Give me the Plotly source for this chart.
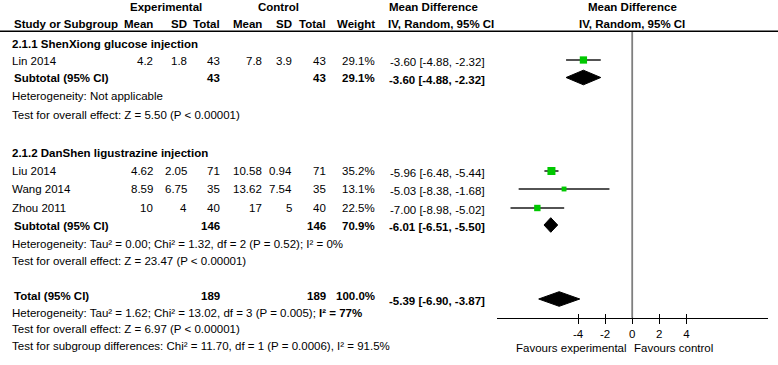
import plotly.graph_objects as go
import math

# ---------------- data ----------------
studies = ["Lin 2014", "Liu 2014", "Wang 2014", "Zhou 2011"]
exp_mean = [4.2, 4.62, 8.59, 10]
exp_sd = [1.8, 2.05, 6.75, 4]
exp_n = [43, 71, 35, 40]
ctl_mean = [7.8, 10.58, 13.62, 17]
ctl_sd = [3.9, 0.94, 7.54, 5]
ctl_n = [43, 71, 35, 40]
weight = [29.1, 35.2, 13.1, 22.5]
md = [-3.60, -5.96, -5.03, -7.00]
md_lo = [-4.88, -6.48, -8.38, -8.98]
md_hi = [-2.32, -5.44, -1.68, -5.02]

group_titles = ["2.1.1 ShenXiong glucose injection", "2.1.2 DanShen ligustrazine injection"]
sub_n_exp = [43, 146]
sub_n_ctl = [43, 146]
sub_weight = [29.1, 70.9]
sub_md = [-3.60, -6.01]
sub_lo = [-4.88, -6.51]
sub_hi = [-2.32, -5.50]
sub_het = ["Heterogeneity: Not applicable",
           "Heterogeneity: Tau² = 0.00; Chi² = 1.32, df = 2 (P = 0.52); I² = 0%"]
sub_test = ["Test for overall effect: Z = 5.50 (P < 0.00001)",
            "Test for overall effect: Z = 23.47 (P < 0.00001)"]

tot_n_exp = 189
tot_n_ctl = 189
tot_weight = 100.0
tot_md = -5.39
tot_lo = -6.90
tot_hi = -3.87
tot_het = "Heterogeneity: Tau² = 1.62; Chi² = 13.02, df = 3 (P = 0.005); <b>I² = 77%</b>"
tot_test = "Test for overall effect: Z = 6.97 (P < 0.00001)"
tot_sub = "Test for subgroup differences: Chi² = 11.70, df = 1 (P = 0.0006), I² = 91.5%"

tick_vals = [-4, -2, 0, 2, 4]
x_range = [-10, 10]

# ---------------- layout (pixel positions) ----------------
W, H = 778, 365
FONT = "Liberation Sans, Arial, sans-serif"
FS = 11.5
GREEN = "#00c800"

y_title = [43.5, 152.7]
y_study = [60.7, 170.7, 189.3, 207.7]
y_sub = [78.0, 225.7]
y_het = [96.0, 244.0]
y_test = [114.5, 261.3]
y_tot = 295.5
y_tot_het = 312.7
y_tot_test = 329.3
y_tot_sub = 345.7
ym_study = [60.0, 171.0, 189.0, 208.0]
ym_sub = [77.5, 225.0]
ym_tot = 299.0
DIAM_H = 7.3

col_x = {"em": 155, "es": 189, "en": 222, "cm": 264, "cs": 294, "cn": 328, "w": 377, "ci": 487}

axis_y = 317.7
px_left, px_right = 496.7, 767.7

annotations = []


def txt(x, y, s, anchor="left", bold=False, size=FS):
    annotations.append(dict(
        x=x / W, y=y, xref="paper", yref="y",
        text=f"<b>{s}</b>" if bold else s, showarrow=False,
        xanchor=anchor, yanchor="middle",
        font=dict(family=FONT, size=size, color="black")))


def fmt(v):
    return f"{v:g}"


def ci_text(m, lo, hi):
    return f"{m:.2f} [{lo:.2f}, {hi:.2f}]"


# headers
txt(166, 7, "Experimental", "center", True)
txt(278, 7, "Control", "center", True)
txt(387, 7, "Mean Difference", "left", True)
txt(632, 7, "Mean Difference", "center", True)
txt(12, 24, "Study or Subgroup", "left", True)
for key, lab in [("em", "Mean"), ("es", "SD"), ("en", "Total"), ("cm", "Mean"),
                 ("cs", "SD"), ("cn", "Total"), ("w", "Weight")]:
    txt(col_x[key], 24, lab, "right", True)
txt(386, 24, "IV, Random, 95% CI", "left", True)
txt(632, 24, "IV, Random, 95% CI", "center", True)

fig = go.Figure()

for i, name in enumerate(studies):
    y = y_study[i]
    txt(10, y, name)
    txt(col_x["em"], y, fmt(exp_mean[i]), "right")
    txt(col_x["es"], y, fmt(exp_sd[i]), "right")
    txt(col_x["en"], y, str(exp_n[i]), "right")
    txt(col_x["cm"], y, fmt(ctl_mean[i]), "right")
    txt(col_x["cs"], y, fmt(ctl_sd[i]), "right")
    txt(col_x["cn"], y, str(ctl_n[i]), "right")
    txt(col_x["w"], y, f"{weight[i]:.1f}%", "right")
    txt(col_x["ci"], ym_study[i] + 2, ci_text(md[i], md_lo[i], md_hi[i]), "right")
    fig.add_trace(go.Scatter(x=[md_lo[i], md_hi[i]], y=[ym_study[i], ym_study[i]],
                             mode="lines", line=dict(color="#1a1a1a", width=1.5),
                             hoverinfo="skip", showlegend=False))
    fig.add_trace(go.Scatter(x=[md[i]], y=[ym_study[i]], mode="markers",
                             marker=dict(symbol="square", color=GREEN,
                                         size=1.35 * math.sqrt(weight[i]),
                                         line=dict(width=0)),
                             showlegend=False))


def diamond(m, lo, hi, y):
    fig.add_trace(go.Scatter(x=[lo, m, hi, m, lo], y=[y, y - DIAM_H, y, y + DIAM_H, y],
                             mode="lines", fill="toself", fillcolor="black",
                             line=dict(color="black", width=1), showlegend=False))


for g in range(2):
    txt(10, y_title[g], group_titles[g], "left", True)
    txt(12, y_sub[g], "Subtotal (95% CI)", "left", True)
    txt(col_x["en"], y_sub[g], str(sub_n_exp[g]), "right", True)
    txt(col_x["cn"], y_sub[g], str(sub_n_ctl[g]), "right", True)
    txt(col_x["w"], y_sub[g], f"{sub_weight[g]:.1f}%", "right", True)
    txt(col_x["ci"], ym_sub[g] + 2, ci_text(sub_md[g], sub_lo[g], sub_hi[g]), "right", True)
    txt(10, y_het[g], sub_het[g])
    txt(10, y_test[g], sub_test[g])
    diamond(sub_md[g], sub_lo[g], sub_hi[g], ym_sub[g])

txt(12, y_tot, "Total (95% CI)", "left", True)
txt(col_x["en"], y_tot, str(tot_n_exp), "right", True)
txt(col_x["cn"], y_tot, str(tot_n_ctl), "right", True)
txt(col_x["w"], y_tot, f"{tot_weight:.1f}%", "right", True)
txt(col_x["ci"], ym_tot + 2, ci_text(tot_md, tot_lo, tot_hi), "right", True)
txt(10, y_tot_het, tot_het)
txt(10, y_tot_test, tot_test)
txt(10, y_tot_sub, tot_sub)
diamond(tot_md, tot_lo, tot_hi, ym_tot)

# invisible trace so the overlay axis (upper half of tick marks) is drawn
fig.add_trace(go.Scatter(x=[0], y=[axis_y], xaxis="x2", yaxis="y", mode="markers",
                         marker=dict(opacity=0), hoverinfo="skip", showlegend=False))

annotations.append(dict(x=0, y=348, xref="x", yref="y", text="Favours experimental",
                        showarrow=False, xanchor="right", yanchor="middle", xshift=-3,
                        font=dict(family=FONT, size=FS, color="black")))
annotations.append(dict(x=0, y=348, xref="x", yref="y", text="Favours control",
                        showarrow=False, xanchor="left", yanchor="middle", xshift=0,
                        font=dict(family=FONT, size=FS, color="black")))

shapes = [
    dict(type="line", xref="paper", yref="y", x0=0, x1=1, y0=31.3, y1=31.3,
         line=dict(color="black", width=1.5)),
    dict(type="line", xref="x", yref="y", x0=0, x1=0, y0=32, y1=axis_y,
         line=dict(color="#7f7f7f", width=1.8)),
]

axis_pos = 1 - axis_y / H
dom = [px_left / W, px_right / W]
fig.update_layout(
    width=W, height=H, margin=dict(l=0, r=0, t=0, b=0, autoexpand=False),
    paper_bgcolor="white", plot_bgcolor="white",
    annotations=annotations, shapes=shapes, showlegend=False,
    xaxis=dict(domain=dom, range=x_range, anchor="free", position=axis_pos,
               showgrid=False, zeroline=False, showline=True, linecolor="black", linewidth=1.2,
               ticks="outside", ticklen=5, tickwidth=1.2, tickcolor="black",
               tickvals=tick_vals, ticktext=[str(v) for v in tick_vals],
               tickfont=dict(family=FONT, size=FS, color="black")),
    xaxis2=dict(domain=dom, range=x_range, anchor="free", position=axis_pos,
                overlaying="x", matches="x", showgrid=False, zeroline=False, showline=False,
                ticks="inside", ticklen=4, tickwidth=1.2, tickcolor="black",
                tickvals=tick_vals, showticklabels=False),
    yaxis=dict(domain=[0, 1], range=[H, 0], visible=False, fixedrange=True),
)
fig.write_html("out.html", config={"displayModeBar": False},
               post_script="document.body.style.margin='0';document.body.style.padding='0';")
